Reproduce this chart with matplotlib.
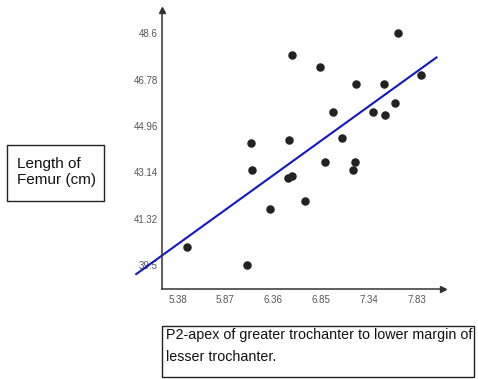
import matplotlib
matplotlib.use("Agg")
import matplotlib.pyplot as plt
from matplotlib.patches import Rectangle

plt.rcParams['font.family'] = ['Liberation Sans', 'DejaVu Sans']

# P2 distance (cm) vs femur length (cm)
p2 = [6.556, 6.835, 7.633, 7.872, 7.203, 7.493, 6.972, 7.381, 7.504, 7.609,
      7.060, 6.134, 6.518, 6.886, 7.200, 7.172, 6.140, 6.515, 6.556, 6.686,
      6.331, 5.479, 6.089]
femur = [47.76, 47.27, 48.59, 46.95, 46.59, 46.59, 45.50, 45.50, 45.40, 45.85,
         44.49, 44.30, 44.39, 43.55, 43.55, 43.22, 43.22, 42.90, 43.00, 42.01,
         41.70, 40.21, 39.50]

# regression line as drawn
fit_x = [4.958, 8.028]
fit_slope = 2.77
fit_intercept = 25.41

xticks = [5.38, 5.87, 6.36, 6.85, 7.34, 7.83]
yticks = [39.5, 41.32, 43.14, 44.96, 46.78, 48.6]
ylabels = ['39.5', '41.32', '43.14', '44.96', '46.78', '48.6']

fig = plt.figure(figsize=(4.78, 3.79), dpi=100)
ax = fig.add_axes([162 / 478, 1 - 289 / 379, (443 - 162) / 478, (289 - 10) / 379])

ax.set_xlim(5.222, 8.095)
ax.set_ylim(38.56, 49.51)

fit_y = [fit_intercept + fit_slope * v for v in fit_x]
ax.plot(fit_x, fit_y, color='#1515c8', lw=1.5, clip_on=False, zorder=2)
ax.scatter(p2, femur, s=26, color='#222222', zorder=3)

for s in ['top', 'right']:
    ax.spines[s].set_visible(False)
for s in ['left', 'bottom']:
    ax.spines[s].set_color('#333333')
    ax.spines[s].set_linewidth(1.1)
ax.plot(1, 0, '>', color='#333333', ms=4, transform=ax.transAxes, clip_on=False)
ax.plot(0, 1, '^', color='#333333', ms=4, transform=ax.transAxes, clip_on=False)

ax.set_xticks(xticks)
ax.set_xticklabels([str(v) for v in xticks])
ax.set_yticks(yticks)
ax.set_yticklabels(ylabels)
ax.tick_params(length=0, labelsize=7, labelcolor='#555555')
ax.tick_params(axis='x', pad=4)
ax.tick_params(axis='y', pad=3)

# y label box
fig.patches.append(Rectangle((7 / 478, 1 - 201 / 379), 97 / 478, 56 / 379,
                             transform=fig.transFigure, fill=False,
                             edgecolor='#222222', lw=1))
fig.text(17 / 478, 1 - 172 / 379, 'Length of\nFemur (cm)', fontsize=11,
         va='center', ha='left', color='#111111', linespacing=1.2)

# x label box
fig.patches.append(Rectangle((162 / 478, 1 - 377 / 379), 312 / 478, 51 / 379,
                             transform=fig.transFigure, fill=False,
                             edgecolor='#222222', lw=1))
fig.text(166 / 478, 1 - 335 / 379, 'P2-apex of greater trochanter to lower margin of',
         fontsize=10.3, va='center', ha='left', color='#111111')
fig.text(166 / 478, 1 - 357 / 379, 'lesser trochanter.',
         fontsize=10.3, va='center', ha='left', color='#111111')

fig.savefig('out.png', dpi=100)
